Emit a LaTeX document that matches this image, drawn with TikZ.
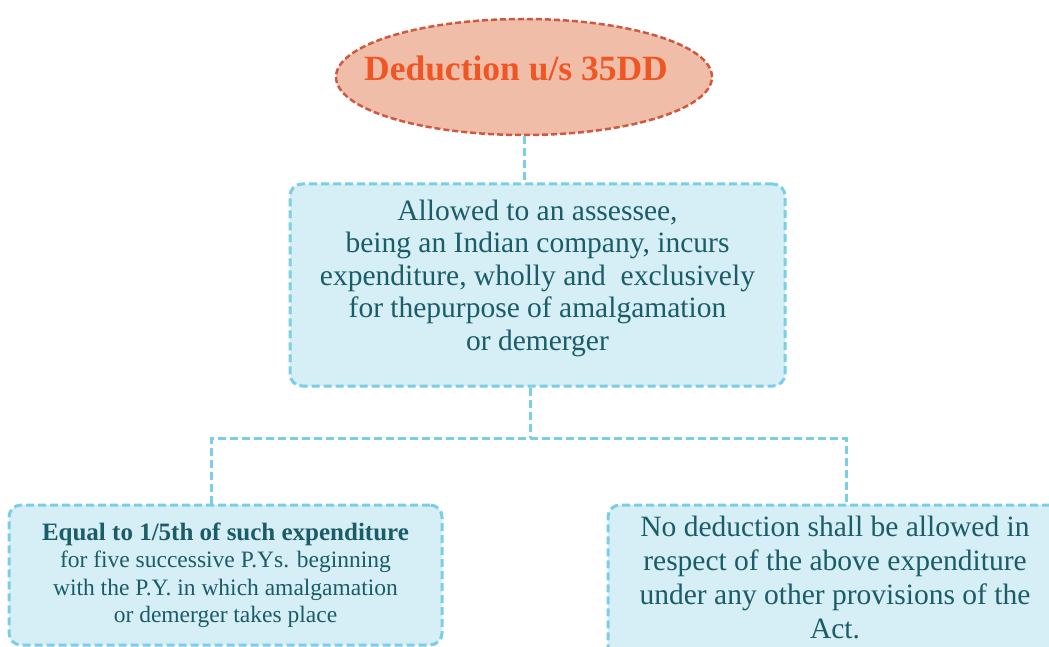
\documentclass[tikz,border=0pt]{standalone}
\usepackage{fontspec}
\setmainfont{Liberation Serif}
\usetikzlibrary{shapes.geometric}
\definecolor{titlefill}{RGB}{240,190,168}
\definecolor{titleedge}{RGB}{208,88,64}
\definecolor{titletext}{RGB}{240,86,36}
\definecolor{boxfill}{RGB}{214,238,246}
\definecolor{boxedge}{RGB}{122,206,230}
\definecolor{bodytext}{RGB}{26,92,104}
\begin{document}
\begin{tikzpicture}[x=1pt, y=-1pt,
	blurb/.style={draw=boxedge, fill=boxfill, line width=3pt, dash pattern=on 8pt off 4pt,
		rounded corners=12pt, align=center, text=bodytext, inner sep=0pt},
	link/.style={draw=boxedge, line width=3pt, dash pattern=on 8pt off 4pt}]
	\clip (0,0) rectangle (1049,647);
	\node[ellipse, draw=titleedge, fill=titlefill, line width=2.5pt, dash pattern=on 6pt off 3pt,
		minimum width=376pt, minimum height=116pt, inner xsep=-28pt, inner ysep=0pt, text depth=17pt,
		text=titletext, font=\bfseries\fontsize{35.5}{40}\selectfont]
		(title) at (524,77) {Deduction u/s 35DD\hspace*{16pt}};
	\node[blurb, minimum width=495pt, minimum height=202pt, text depth=20pt,
		font=\fontsize{29.5}{32.5}\selectfont]
		(rule) at (537.5,285) {Allowed to an assessee,\\ being an Indian company, incurs\\
		expenditure, wholly and\ \ exclusively\\ for thepurpose of amalgamation\\ or demerger};
	\node[blurb, minimum width=433pt, minimum height=140pt, font=\fontsize{23.5}{27.5}\selectfont]
		(amount) at (225.5,575) {{\bfseries\fontsize{25}{27.5}\selectfont Equal to 1/5th of such expenditure}\\
		for five successive P.Ys. beginning\\ with the P.Y. in which amalgamation\\ or demerger takes place};
	\node[blurb, minimum width=454pt, minimum height=155pt, text depth=10pt,
		font=\fontsize{29.5}{34}\selectfont]
		(bar) at (835,582.5) {No deduction shall be allowed in\\ respect of the above expenditure\\
		under any other provisions of the\\ Act.};
	\coordinate (fork) at (530,438);
	\coordinate (lfoot) at (211,438); \coordinate (rfoot) at (846,438);
	\draw[link] (title.south) -- (title.south |- rule.north);
	\draw[link] (rule.south -| fork) -- (fork);
	\draw[link] (lfoot |- amount.north) -- (lfoot) -- (rfoot) -- (rfoot |- bar.north);
\end{tikzpicture}
\end{document}
